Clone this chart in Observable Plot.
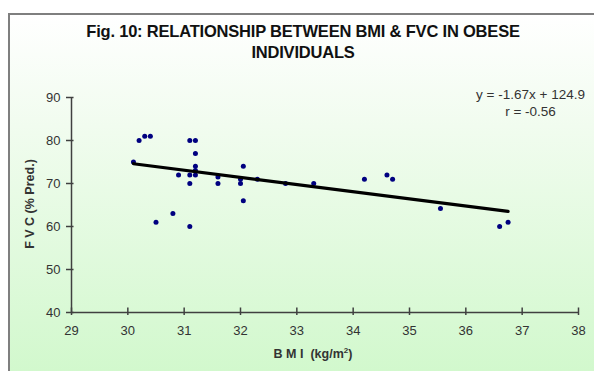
<!DOCTYPE html>
<html>
<head>
<meta charset="utf-8">
<script src="https://cdn.jsdelivr.net/npm/d3@7"></script>
<script src="https://cdn.jsdelivr.net/npm/@observablehq/plot@0.6"></script>
<style>
  html, body { margin: 0; padding: 0; background: #fff; }
  #wrap { position: relative; width: 594px; height: 371px; overflow: hidden; font-family: "Liberation Sans", Arial, sans-serif; }
  #frame { position: absolute; left: 8px; top: 13px; width: 590px; height: 370px; border: 2px solid #7f7f7f;
           background: linear-gradient(to bottom, #ffffff 0%, #f1fcef 30%, #d0f8cb 100%); }
  #chart { position: absolute; left: 0; top: 0; }
  .t { position: absolute; color: #111; font-weight: bold; white-space: nowrap; }
</style>
</head>
<body>
<div id="wrap">
  <div id="frame"></div>
  <div id="chart"></div>
  <div class="t" style="left:0; width:606px; top:21px; text-align:center; font-size:16.5px; line-height:21px; letter-spacing:-0.2px;">Fig. 10: RELATIONSHIP BETWEEN BMI &amp; FVC IN OBESE<br>INDIVIDUALS</div>
  <div class="t" style="left:0; width:626px; top:346px; text-align:center; font-size:12.5px; color:#333;">B M I&nbsp; (kg/m<sup style="font-size:8px">2</sup>)</div>
  <div class="t" style="left:30px; top:204px; font-size:12.5px; color:#333; transform: translate(-50%,-50%) rotate(-90deg);">F V C (% Pred.)</div>
</div>
<script>
const bmi = [30.1, 30.2, 30.3, 30.4, 30.5, 30.8, 30.9, 31.1, 31.2, 31.2, 31.2, 31.1, 31.2, 31.2, 31.1, 31.1, 31.6, 31.6, 32.0, 32.0, 32.05, 32.05, 32.3, 32.8, 33.3, 34.2, 34.6, 34.7, 35.55, 36.6, 36.75];
const fvc = [75, 80, 81, 81, 61, 63, 72, 80, 80, 77, 74, 72, 73, 72, 70, 60, 71.5, 70, 70, 71, 74, 66, 71, 70, 70, 71, 72, 71, 64.2, 60, 61];
const trendX = [30.1, 36.75];
const trendY = [74.6, 63.5];
const xTicks = [29, 30, 31, 32, 33, 34, 35, 36, 37, 38];
const yTicks = [40, 50, 60, 70, 80, 90];
const equation = ["y = -1.67x + 124.9", "r = -0.56"];

const pts = bmi.map((b, i) => ({bmi: b, fvc: fvc[i]}));
const trend = trendX.map((x, i) => ({x, y: trendY[i]}));

const axisColor = "#404040";
const chart = Plot.plot({
  width: 594,
  height: 371,
  marginLeft: 71,
  marginRight: 16,
  marginTop: 97,
  marginBottom: 59,
  style: {background: "transparent", fontFamily: "Liberation Sans, Arial, sans-serif", fontSize: "13px", color: "#333"},
  x: {domain: [29, 38]},
  y: {domain: [40, 90]},
  marks: [
    Plot.axisX({ticks: xTicks, tickSize: 3, tickPadding: 10, label: null, stroke: axisColor, strokeWidth: 1.5, fill: "#333", fontSize: 13}),
    Plot.axisY({ticks: yTicks, tickSize: 5, tickPadding: 6, label: null, stroke: axisColor, strokeWidth: 1.5, fill: "#333", fontSize: 13}),
    Plot.ruleX(xTicks, {y1: 40, y2: 41.05, stroke: axisColor, strokeWidth: 1.5}),
    Plot.ruleY(yTicks, {x1: 29, x2: 29.045, stroke: axisColor, strokeWidth: 1.5}),
    Plot.ruleX([29], {stroke: axisColor, strokeWidth: 1.5}),
    Plot.ruleY([40], {stroke: axisColor, strokeWidth: 1.5}),
    Plot.dot(pts, {x: "bmi", y: "fvc", r: 2.5, fill: "#000080", stroke: "none"}),
    Plot.line(trend, {x: "x", y: "y", stroke: "#000", strokeWidth: 3.2}),
    Plot.text(equation, {frameAnchor: "top-right", text: d => d, textAnchor: "middle", fill: "#333", fontSize: 13.5})
  ]
});
document.getElementById("chart").appendChild(chart);
// stack the equation lines at the top right of the plot
const eq = chart.querySelectorAll("g[aria-label='text'] text");
eq.forEach((t, i) => { t.setAttribute("transform", `translate(530,${98 + i * 17})`); t.removeAttribute("x"); t.removeAttribute("y"); });
</script>
</body>
</html>
